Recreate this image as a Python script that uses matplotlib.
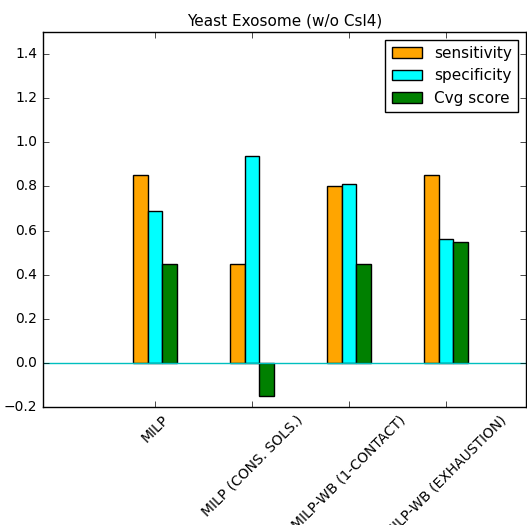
import numpy as np
import matplotlib
matplotlib.use('Agg')
import matplotlib.pyplot as plt

plt.style.use('classic')

##### dados #####
metodos = ['MILP', 'MILP (CONS. SOLS.)', 'MILP-WB (1-CONTACT)', 'MILP-WB (EXHAUSTION)']
sensitivity = [0.85, 0.45, 0.80, 0.85]
specificity = [0.69, 0.94, 0.81, 0.56]
cvg_score = [0.45, -0.15, 0.45, 0.55]

largura = 0.15
x = np.arange(len(metodos))

fig = plt.figure(figsize=(5.27, 5.25), dpi=100, facecolor='white')
ax = fig.add_axes([43/527, 118/525, 483/527, 375/525])

ax.bar(x - largura, sensitivity, largura, color='orange', edgecolor='black', label='sensitivity')
ax.bar(x, specificity, largura, color='cyan', edgecolor='black', label='specificity')
ax.bar(x + largura, cvg_score, largura, color='green', edgecolor='black', label='Cvg score')
ax.axhline(0, color='c', linewidth=1)

ax.set_xlim(-1.155, 3.825)
ax.set_ylim(-0.2, 1.5)
ax.set_xticks(x)
ax.set_xticklabels(metodos, rotation=45, fontsize=10)
ax.tick_params(axis='y', labelsize=10)
ax.set_title('Yeast Exosome (w/o Csl4)', fontsize=11)
ax.legend(loc='upper right', fontsize=11)

fig.savefig('out.png', dpi=100, facecolor='white')
